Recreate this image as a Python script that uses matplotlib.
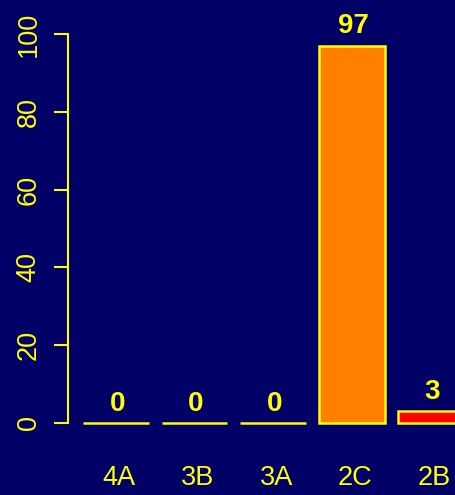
import matplotlib
matplotlib.use("Agg")
import matplotlib.pyplot as plt

categories = ["4A", "3B", "3A", "2C", "2B"]
values = [0, 0, 0, 97, 3]
bar_colors = ["#FFFF00", "#FFFF00", "#FFFF00", "#FF8000", "#FF0000"]

bg = "#000066"
fg = "#FFFF00"

plt.rcParams["font.family"] = ["Liberation Sans", "DejaVu Sans"]

fig = plt.figure(figsize=(4.56, 4.95), dpi=100, facecolor=bg)
# axes placed in figure pixels: y axis at x=68, 0 at y=423, 100 at y=34
ax = fig.add_axes([68 / 456, (495 - 423) / 495, 1 - 68 / 456, (423 - 34) / 495])
ax.set_facecolor(bg)

# R style positions: width 1, space 0.2
pos = [0.7 + 1.2 * i for i in range(len(categories))]
ax.bar(pos, values, width=1.0, color=bar_colors, edgecolor=fg, linewidth=1.8, clip_on=False)

for x, v in zip(pos, values):
    ax.annotate(str(v), (x, v), xytext=(1, 14), textcoords="offset points",
                ha="center", va="center", color=fg, fontsize=20, fontweight="bold",
                annotation_clip=False)

ax.set_xlim(-0.03, 5.89)
ax.set_ylim(0, 100)
ax.set_yticks([0, 20, 40, 60, 80, 100])
ax.set_yticklabels(["0", "20", "40", "60", "80", "100"], rotation=90, va="center")
ax.set_xticks([p + 0.05 for p in pos])
ax.set_xticklabels(categories)

ax.tick_params(axis="y", colors=fg, length=10, width=1.5, pad=9, labelsize=19.5)
ax.tick_params(axis="x", colors=fg, length=0, pad=30, labelsize=19.5)

for s in ["top", "right", "bottom"]:
    ax.spines[s].set_visible(False)
ax.spines["left"].set_color(fg)
ax.spines["left"].set_linewidth(1.5)

fig.savefig("out.png", dpi=100, facecolor=bg)
